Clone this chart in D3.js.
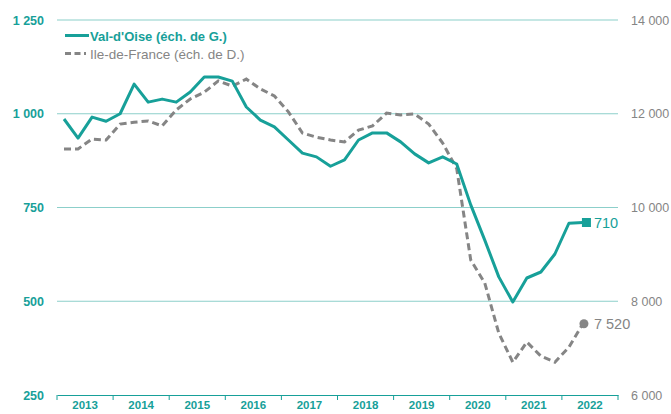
<!DOCTYPE html>
<html><head><meta charset="utf-8">
<script src="https://cdn.jsdelivr.net/npm/d3@7"></script>
<style>
html,body{margin:0;padding:0;background:#fff;overflow:hidden}
svg{display:block;font-family:"Liberation Sans",Arial,sans-serif}
</style></head><body>
<svg id="c" width="671" height="414"></svg>
<script>
const years = ["2013","2014","2015","2016","2017","2018","2019","2020","2021","2022"];
const valdoise = [986,935,991,980,1000,1079,1031,1039,1031,1058,1098,1098,1087,1018,983,965,930,895,885,860,877,930,949,949,925,893,869,885,866,757,663,565,498,562,578,626,708,710];
const idf = [11250,11250,11460,11440,11780,11820,11845,11740,12080,12315,12460,12700,12590,12740,12530,12380,12040,11590,11500,11440,11400,11650,11740,12015,11975,11995,11780,11375,10830,8880,8390,7320,6700,7130,6830,6700,7020,7520];
const leftTicks = [250,500,750,1000,1250];
const rightTicks = [6000,8000,10000,12000,14000];
const labelsLegend = ["Val-d'Oise (éch. de G.)","Ile-de-France (éch. de D.)"];
const endLabels = ["710","7 520"];

const teal = "#17a099", gray = "#858585", grid = "#8ccfca";
const svg = d3.select("#c");
const L = 57, R = 618, T = 20, B = 395;
const yL = d3.scaleLinear().domain([250,1250]).range([B,T]);
const yR = d3.scaleLinear().domain([6000,14000]).range([B,T]);
const xBand = d3.scaleBand().domain(years).range([L,R]);
const x = d3.scaleLinear().domain([0, years.length*4]).range([L,R]);

// gridlines
svg.append("g").selectAll("line").data(leftTicks.slice(1)).join("line")
  .attr("x1",L).attr("x2",R).attr("y1",d=>yL(d)).attr("y2",d=>yL(d))
  .attr("stroke",grid).attr("stroke-width",1.2);

// left axis
const gl = svg.append("g").attr("transform",`translate(${L},0)`)
  .call(d3.axisLeft(yL).tickValues(leftTicks).tickSize(0).tickPadding(13)
    .tickFormat(d=>d3.format(",")(d).replace(/,/g," ")));
gl.select(".domain").remove();
gl.selectAll("text").attr("fill",teal).attr("font-weight","bold").attr("font-size",12.5);

// right axis
const gr = svg.append("g").attr("transform",`translate(${R},0)`)
  .call(d3.axisRight(yR).tickValues(rightTicks).tickSize(0).tickPadding(13)
    .tickFormat(d=>d3.format(",")(d).replace(/,/g," ")));
gr.select(".domain").remove();
gr.selectAll("text").attr("fill",gray).attr("font-size",12.5);

// bottom axis
const gb = svg.append("g").attr("transform",`translate(0,${B})`)
  .call(d3.axisBottom(xBand).tickSize(0).tickPadding(6));
gb.select(".domain").attr("stroke",teal).attr("stroke-width",1.2);
gb.selectAll("text").attr("fill",teal).attr("font-weight","bold").attr("font-size",11.5);
gb.selectAll("line.bd").data(years.concat(["end"])).join("line").attr("class","bd")
  .attr("x1",(d,i)=>i<years.length?xBand(d):R).attr("x2",(d,i)=>i<years.length?xBand(d):R)
  .attr("y1",0).attr("y2",5).attr("stroke",teal).attr("stroke-width",1);

// lines
const lineL = d3.line().x((d,i)=>x(i+0.5)).y(d=>yL(d));
const lineR = d3.line().x((d,i)=>x(i+0.5)).y(d=>yR(d));
svg.append("path").datum(idf).attr("d",lineR).attr("fill","none")
  .attr("stroke",gray).attr("stroke-width",3).attr("stroke-dasharray","7,4");
svg.append("path").datum(valdoise).attr("d",lineL).attr("fill","none")
  .attr("stroke",teal).attr("stroke-width",3).attr("stroke-linejoin","round");

// end markers
const n = valdoise.length-1;
svg.append("rect").attr("x",x(n+0.5)-1).attr("y",yL(valdoise[n])-4.5).attr("width",9).attr("height",9).attr("fill",teal);
svg.append("circle").attr("cx",x(n+0.5)+1).attr("cy",yR(idf[n])).attr("r",4.5).attr("fill",gray);
svg.append("text").attr("x",x(n+0.5)+11).attr("y",yL(valdoise[n])+5).attr("fill",teal)
  .attr("font-size",14.5).text(endLabels[0]);
svg.append("text").attr("x",x(n+0.5)+11).attr("y",yR(idf[n])+5).attr("fill",gray)
  .attr("font-size",14.5).text(endLabels[1]);

// legend
const lg = svg.append("g");
lg.append("line").attr("x1",65).attr("x2",89).attr("y1",35.5).attr("y2",35.5).attr("stroke",teal).attr("stroke-width",3);
lg.append("text").attr("x",90).attr("y",40.5).attr("fill",teal).attr("font-weight","bold").attr("font-size",13).text(labelsLegend[0]);
lg.append("line").attr("x1",65).attr("x2",86).attr("y1",53.5).attr("y2",53.5).attr("stroke",gray).attr("stroke-width",3).attr("stroke-dasharray","6,3.5");
lg.append("text").attr("x",90).attr("y",58.5).attr("fill",gray).attr("font-size",13.5).text(labelsLegend[1]);
</script></body></html>
